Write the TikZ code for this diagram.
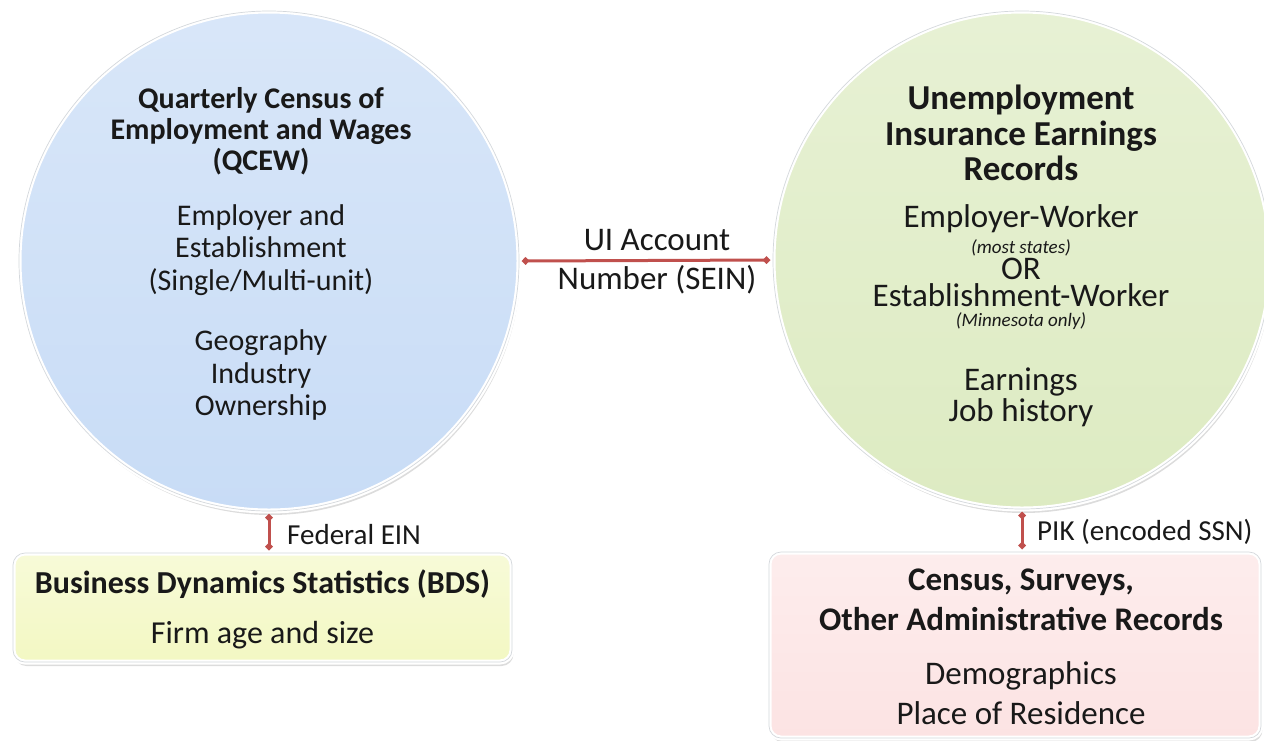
\documentclass[tikz,border=0pt]{standalone}
\usepackage{fontspec}
\setmainfont{Carlito}
\usetikzlibrary{arrows.meta,shadows}
\definecolor{linkred}{HTML}{C0504D}
\definecolor{qblue}{HTML}{C8DCF6}
\definecolor{ugreen}{HTML}{DDEBC2}
\definecolor{byel}{HTML}{F3F8C3}
\definecolor{cpink}{HTML}{FCE3E3}
\definecolor{edgegray}{HTML}{D4D8DC}
\tikzset{
  glow/.style={draw=white,line width=5pt,
    postaction={draw=edgegray,line width=0.7pt},
    drop shadow={opacity=0.28,shadow xshift=1.5pt,shadow yshift=-4pt}},
  bigcircle/.style={circle,minimum size=#1,inner sep=0pt,glow},
  infobox/.style={rounded corners=12pt,inner sep=0pt,glow},
  link/.style={draw=linkred,line width=3pt,
    {Turned Square[length=8pt,width=8pt]}-{Turned Square[length=8pt,width=8pt]}},
  txt/.style={align=center,inner sep=0pt,text=black!90},
  ttl/.style={txt,font=\bfseries\fontsize{30}{31}\selectfont},
  body/.style={txt,font=\fontsize{30}{32.5}\selectfont},
  rbody/.style={txt,font=\fontsize{33}{31}\selectfont},
  lbl/.style={txt,font=\fontsize{29}{30}\selectfont},
}
\newcommand{\noteit}[1]{{\itshape\fontsize{19}{19}\selectfont #1}}
\newcommand{\tightlines}{\setlength{\lineskiplimit}{-100pt}\setlength{\lineskip}{0pt}\relax}
\begin{document}
\begin{tikzpicture}[x=1pt,y=-1pt]
\useasboundingbox (0,0) rectangle (1264,740);
% shapes
\node[bigcircle=500pt,top color=qblue!70,bottom color=qblue] (qcew) at (269,261) {};
\node[bigcircle=498pt,top color=ugreen!70,bottom color=ugreen] (ui) at (1022,260) {};
\node[infobox,top color=byel!65,bottom color=byel,minimum width=499pt,minimum height=109pt] (bds) at (262.5,607.5) {};
\node[infobox,top color=cpink!65,bottom color=cpink,minimum width=492pt,minimum height=186pt] (cens) at (1015,645) {};
% connectors
\draw[link] (qcew.east) -- (ui.west);
\draw[link] (qcew.south) -- (qcew.south |- bds.north);
\draw[link] (ui.south) -- (ui.south |- cens.north);
% QCEW text
\node[ttl] (q1) at (261,131) {Quarterly Census of\\Employment and Wages\\(QCEW)};
\node[body] (q2) at (261,250) {Employer and\\Establishment\\(Single/Multi-unit)};
\node[body] (q3) at (261,375) {Geography\\Industry\\Ownership};
% UI text
\node[ttl,font=\bfseries\fontsize{35}{35.5}\selectfont] (u1) at (1021,133) {Unemployment\\Insurance Earnings\\Records};
\node[txt,anchor=north,font=\fontsize{33}{26}\selectfont\tightlines] (u2) at (1021,204)
  {Employer-Worker\\ \noteit{(most states)}\\ OR\\[1pt] Establishment-Worker\\[-6pt] \noteit{(Minnesota only)}};
\node[rbody] (u7) at (1021,397.5) {Earnings\\Job history};
% link labels
\node[rbody] (l1) at (657,240) {UI Account};
\node[rbody] (l2) at (657,280) {Number (SEIN)};
\node[lbl,anchor=west] (l3) at (287,535) {Federal EIN};
\node[lbl,anchor=west] (l4) at (1037,532) {PIK (encoded SSN)};
% BDS text
\node[ttl,font=\bfseries\fontsize{32}{31}\selectfont] (b1) at (262.5,584) {Business Dynamics Statistics (BDS)};
\node[txt,font=\fontsize{32}{31}\selectfont] (b2) at (262.5,635) {Firm age and size};
% Census text
\node[ttl,font=\bfseries\fontsize{33}{40}\selectfont] (c1) at (1021,600) {Census, Surveys,\\Other Administrative Records};
\node[txt,font=\fontsize{33}{40}\selectfont] (c2) at (1021,693) {Demographics\\Place of Residence};
\end{tikzpicture}
\end{document}
